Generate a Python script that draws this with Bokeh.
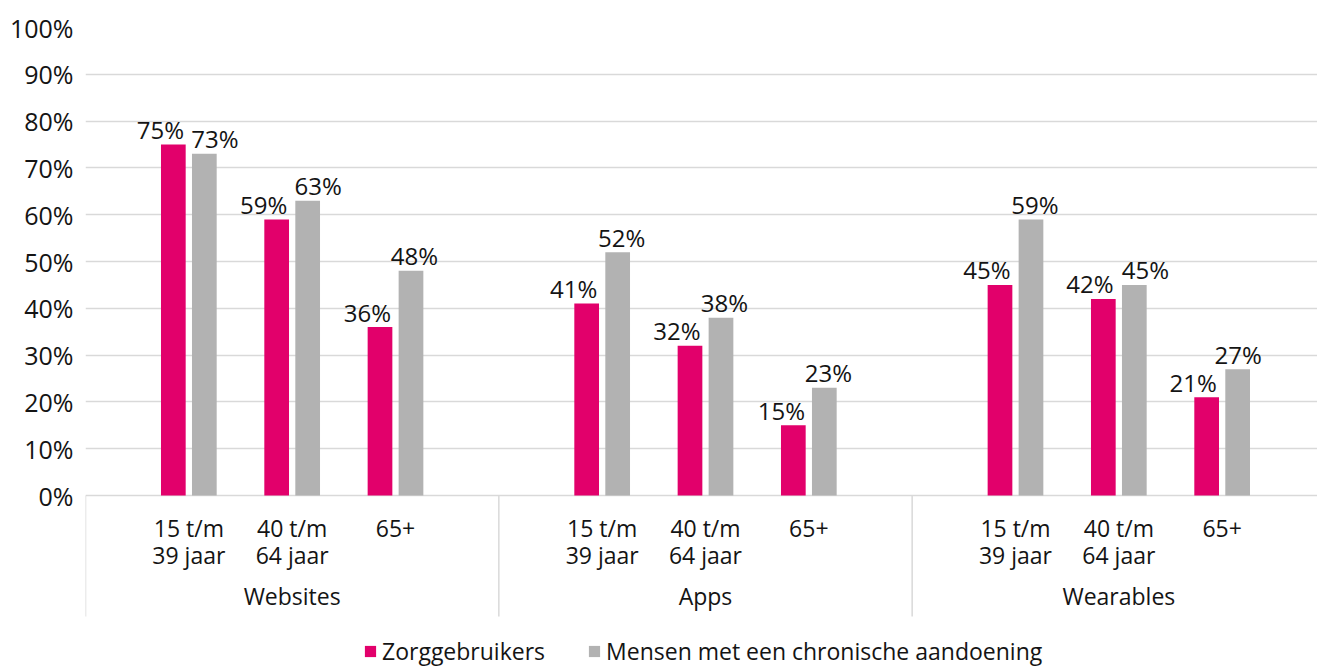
from bokeh.plotting import figure
from bokeh.models import Range1d, FixedTicker, CustomJSTickFormatter, Legend, LegendItem, ColumnDataSource
from bokeh.core.properties import value
from bokeh.embed import file_html
from bokeh.resources import INLINE

# ---------------- data ----------------
groups = ["Websites", "Apps", "Wearables"]
age_groups = ["15 t/m\n39 jaar", "40 t/m\n64 jaar", "65+"]
series_names = ["Zorggebruikers", "Mensen met een chronische aandoening"]
zorggebruikers = [75, 59, 36, 41, 32, 15, 45, 42, 21]
chronisch = [73, 63, 48, 52, 38, 23, 59, 45, 27]
y_ticks = [0, 10, 20, 30, 40, 50, 60, 70, 80, 90, 100]

# ---------------- style / layout ----------------
FONT = "Open Sans"
TEXT = "#141414"
MAGENTA = "#E2006B"
GREY = "#B2B2B2"
GRID = "#D9D9D9"
W, H = 1317, 668
LEFT, TOP = 85, 27
PX_X = 413.33 / 4          # px per category slot
PX_Y = 4.68                # px per percent
SLOTS = 4                  # slots per group (first slot left empty)
BAR_W = 24.7 / PX_X
BAR_OFF = 15.5 / PX_X
BASE_FIX = 8               # px correction for rendered text baseline
label_dx_z = [-13, -13, -12.5, -13, -13, -12, -13, -13.5, -13.5]   # px shift of labels
label_dx_c = [10.5, 10.5, 3.5, 4, 3.5, 4, 4, 11, 0.5]

frame_w = W - LEFT
frame_h = H - TOP
x_end = frame_w / PX_X
y_start = 100 - frame_h / PX_Y

p = figure(width=W, height=H, output_backend="svg", toolbar_location=None,
           title=None, x_range=Range1d(0, x_end), y_range=Range1d(y_start, 100),
           min_border_left=LEFT, min_border_right=0, min_border_top=TOP, min_border_bottom=0)
p.outline_line_color = None
p.background_fill_color = "white"
p.border_fill_color = "white"
p.xaxis.visible = False
p.xgrid.visible = False

yax = p.yaxis[0]
yax.ticker = FixedTicker(ticks=y_ticks)
yax.formatter = CustomJSTickFormatter(code="return tick + '%'")
yax.axis_line_color = None
yax.major_tick_line_color = None
yax.minor_tick_line_color = None
yax.major_tick_out = 0
yax.major_tick_in = 0
yax.major_label_standoff = 12
yax.major_label_text_font = FONT
yax.major_label_text_font_size = "25px"
yax.major_label_text_color = TEXT
p.ygrid.ticker = FixedTicker(ticks=y_ticks)
p.ygrid.grid_line_color = GRID
p.ygrid.grid_line_width = 1.5

# positions
pos = []
for g in range(len(groups)):
    for s in range(len(age_groups)):
        pos.append(g * SLOTS + 1 + s)

xz = [x - BAR_OFF for x in pos]
xc = [x + BAR_OFF for x in pos]
lab_up = (7 + BASE_FIX) / PX_Y
src = ColumnDataSource(dict(xz=xz, xc=xc, z=zorggebruikers, c=chronisch,
                            lz=[f"{v}%" for v in zorggebruikers],
                            lc=[f"{v}%" for v in chronisch],
                            txz=[x + d / PX_X for x, d in zip(xz, label_dx_z)],
                            txc=[x + d / PX_X for x, d in zip(xc, label_dx_c)],
                            tyz=[v + lab_up for v in zorggebruikers],
                            tyc=[v + lab_up for v in chronisch]))

rz = p.vbar(x="xz", top="z", bottom=0, width=BAR_W, source=src, fill_color=MAGENTA, line_color=None)
rc = p.vbar(x="xc", top="c", bottom=0, width=BAR_W, source=src, fill_color=GREY, line_color=None)

common = dict(text_font=value(FONT), text_font_size="24px", text_color=TEXT,
              text_align="center", text_baseline="alphabetic")
p.text(x="txz", y="tyz", text="lz", source=src, **common)
p.text(x="txc", y="tyc", text="lc", source=src, **common)

# category axis (drawn manually)
sep_x = [g * SLOTS for g in range(len(groups) + 1)]
p.segment(x0=sep_x, x1=sep_x, y0=[0] * len(sep_x), y1=[-121 / PX_Y] * len(sep_x),
          line_color=GRID, line_width=1.5)

lx, ly, lt = [], [], []
for i, x in enumerate(pos):
    lines = age_groups[i % len(age_groups)].split("\n")
    for k, line in enumerate(lines):
        lx.append(x)
        ly.append(-(40.5 + 26.5 * k - BASE_FIX) / PX_Y)
        lt.append(line)
p.text(x=lx, y=ly, text=lt, text_font=value(FONT), text_font_size="23px", text_color=TEXT,
       text_align="center", text_baseline="alphabetic")

gx = [g * SLOTS + SLOTS / 2 for g in range(len(groups))]
p.text(x=gx, y=[-(108 - BASE_FIX) / PX_Y] * len(gx), text=groups, text_font=value(FONT),
       text_font_size="23px", text_color=TEXT, text_align="center", text_baseline="alphabetic")

legend = Legend(items=[LegendItem(label=series_names[0], renderers=[rz]),
                       LegendItem(label=series_names[1], renderers=[rc])],
                orientation="horizontal", location=(363 - LEFT, 1),
                glyph_width=14, glyph_height=14, label_standoff=5, spacing=42,
                padding=0, margin=0, border_line_color=None, background_fill_alpha=0,
                label_text_font=FONT, label_text_font_size="23px", label_text_color=TEXT,
                label_height=26)
p.add_layout(legend)

open("out.html", "w").write(file_html(p, INLINE))
